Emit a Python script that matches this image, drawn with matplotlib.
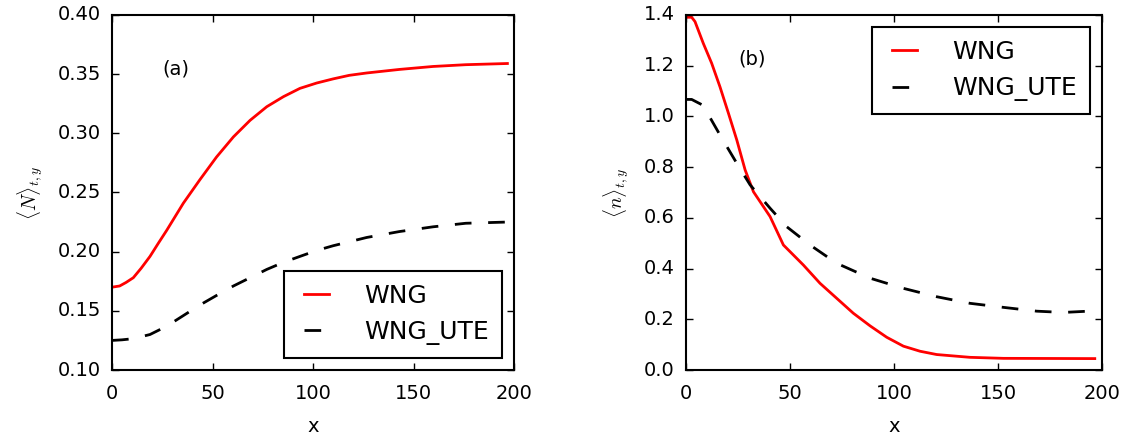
import matplotlib
matplotlib.use('Agg')
import matplotlib.pyplot as plt

# (a) mean N over t,y
xa_wng = [0, 3.8, 7, 10.6, 14.5, 18.9, 23, 27.2, 35.5, 43.8, 52, 60.4, 68.7, 77,
          85.3, 93.5, 101.8, 110, 118, 126.7, 143, 159.7, 176, 196.7]
Na_wng = [0.170, 0.171, 0.174, 0.178, 0.186, 0.196, 0.207, 0.218, 0.241, 0.261,
          0.280, 0.297, 0.311, 0.3225, 0.331, 0.338, 0.3425, 0.346, 0.349, 0.351,
          0.354, 0.3565, 0.358, 0.359]
xa_ute = [0, 5, 10.6, 18.9, 27.2, 35.5, 43.8, 52, 60.4, 68.7, 77, 85.3, 93.5,
          101.8, 110, 126.7, 143, 159.7, 176, 196]
Na_ute = [0.125, 0.1255, 0.1265, 0.130, 0.137, 0.146, 0.155, 0.163, 0.171, 0.178,
          0.185, 0.191, 0.196, 0.201, 0.205, 0.212, 0.217, 0.221, 0.224, 0.225]

# (b) mean n over t,y
xb_wng = [0, 2.7, 4.3, 8.3, 12.3, 16.3, 20.4, 24.4, 28.4, 32.4, 40.4, 46.8, 56.4,
          64.4, 72.4, 80.4, 88.5, 96.5, 104.5, 112.5, 120.5, 136.5, 152.6, 196.5]
nb_wng = [1.391, 1.391, 1.374, 1.288, 1.21, 1.117, 1.012, 0.907, 0.789, 0.703,
          0.605, 0.493, 0.414, 0.342, 0.283, 0.224, 0.174, 0.129, 0.094, 0.074,
          0.061, 0.050, 0.046, 0.045]
xb_ute = [0, 2.7, 7.9, 11.7, 16.3, 24.4, 30.8, 40.4, 48.4, 59.6, 72.4, 88.5,
          104.5, 120.5, 136.5, 152.6, 168.6, 181.4, 195.8]
nb_ute = [1.067, 1.067, 1.045, 0.993, 0.927, 0.815, 0.730, 0.638, 0.565, 0.493,
          0.421, 0.362, 0.322, 0.289, 0.263, 0.247, 0.232, 0.227, 0.233]

plt.style.use('classic')
plt.rcParams['mathtext.fontset'] = 'cm'
plt.rcParams['lines.scale_dashes'] = True

fig = plt.figure(figsize=(11.28, 4.37), dpi=100, facecolor='white')
ax1 = fig.add_axes([0.0993, 0.1533, 0.3564, 0.8124])
ax2 = fig.add_axes([0.6082, 0.1533, 0.3688, 0.8124])

def style(ax, ylab):
    ax.set_xlim(0, 200)
    ax.set_xticks([0, 50, 100, 150, 200])
    ax.tick_params(labelsize=14, width=1, length=5)
    ax.tick_params(axis='x', pad=10)
    ax.tick_params(axis='y', pad=8)
    ax.set_xlabel('x', fontsize=14, labelpad=10)
    ax.set_ylabel(ylab, fontsize=14, labelpad=9)
    for s in ax.spines.values():
        s.set_linewidth(1.5)

def add_legend(ax, loc):
    leg = ax.legend(loc=loc, fontsize=18, handlelength=1.6, handletextpad=1.1,
                    borderpad=0.5)
    leg.get_frame().set_linewidth(1.5)

ax1.plot(xa_wng, Na_wng, color='red', lw=2, label='WNG')
ax1.plot(xa_ute, Na_ute, color='black', lw=2, dashes=(6, 6), label='WNG_UTE')
ax1.set_ylim(0.10, 0.40)
ax1.set_yticks([0.10, 0.15, 0.20, 0.25, 0.30, 0.35, 0.40])
ax1.set_yticklabels(['0.10', '0.15', '0.20', '0.25', '0.30', '0.35', '0.40'])
style(ax1, r'$\langle N\rangle_{t,y}$')
ax1.text(32, 0.354, '(a)', fontsize=14, ha='center', va='center')
add_legend(ax1, 'lower right')

ax2.plot(xb_wng, nb_wng, color='red', lw=2, label='WNG')
ax2.plot(xb_ute, nb_ute, color='black', lw=2, dashes=(6, 6), label='WNG_UTE')
ax2.set_ylim(0, 1.4)
ax2.set_yticks([0.0, 0.2, 0.4, 0.6, 0.8, 1.0, 1.2, 1.4])
style(ax2, r'$\langle n\rangle_{t,y}$')
ax2.text(31.7, 1.226, '(b)', fontsize=14, ha='center', va='center')
add_legend(ax2, 'upper right')

fig.savefig('out.png', dpi=100, facecolor='white')
